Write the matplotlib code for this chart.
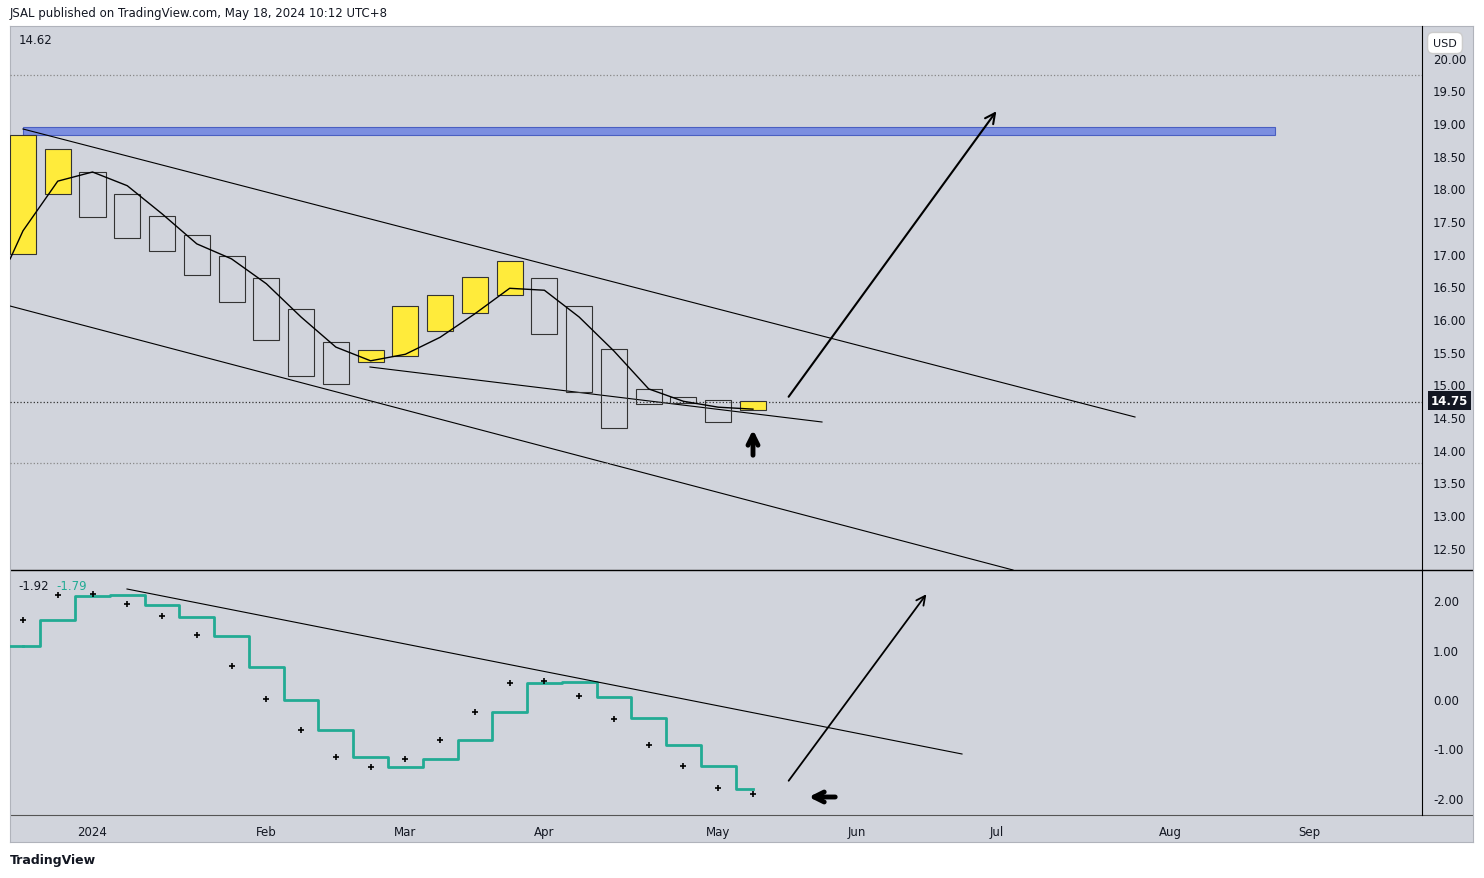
import matplotlib
matplotlib.use("Agg")
import matplotlib.pyplot as plt
from matplotlib.patches import Rectangle

W, H = 1484, 879
BG = "#d1d4dc"
TEAL = "#22ab94"

# weekly bars (index 0..21)
opens  = [17.00,17.91,18.25,17.91,17.58,17.29,16.96,16.63,16.15,15.65,15.34,15.43,15.82,16.09,16.37,16.63,16.20,15.54,14.93,14.81,14.76,14.61]
closes = [18.82,18.60,17.56,17.24,17.04,16.67,16.26,15.68,15.13,15.00,15.53,16.20,16.37,16.64,16.89,15.77,14.88,14.33,14.70,14.72,14.42,14.74]
ma_x = [-0.37,0,1,2,3,4,5,6,7,8,9,10,11,12,13,14,15,16,17,18,19,20,21]
ma_y = [16.92,17.35,18.11,18.25,18.04,17.61,17.15,16.92,16.54,16.03,15.57,15.36,15.46,15.72,16.08,16.47,16.44,16.03,15.51,14.93,14.74,14.65,14.62]
osc_step = [1.07,1.60,2.08,2.10,1.90,1.66,1.27,0.65,-0.02,-0.63,-1.17,-1.37,-1.21,-0.83,-0.26,0.32,0.34,0.04,-0.38,-0.93,-1.35,-1.82]
osc_cross = [1.60,2.10,2.12,1.92,1.68,1.29,0.67,0.0,-0.63,-1.17,-1.37,-1.21,-0.83,-0.26,0.32,0.36,0.06,-0.40,-0.93,-1.35,-1.80,-1.92]
month_idx = [2,7,11,15,20,24,28,33,37]
month_lbl = ["2024","Feb","Mar","Apr","May","Jun","Jul","Aug","Sep"]
price_ticks = [12.5,13.0,13.5,14.0,14.5,15.0,15.5,16.0,16.5,17.0,17.5,18.0,18.5,19.0,19.5,20.0]
osc_ticks = [-2,-1,0,1,2]

def px2i(x): return (x-23)/34.76
def py2p(y): return 19-(y-124)/65.33
def py2o(y): return 2-(y-601)/49.5

fig = plt.figure(figsize=(W/100, H/100), dpi=100)
fig.patch.set_facecolor("white")
def fa(l, t, r, b): return [l/W, 1-b/H, (r-l)/W, (b-t)/H]

bgax = fig.add_axes(fa(10,27,1473,843)); bgax.set_facecolor(BG)
bgax.set_xticks([]); bgax.set_yticks([])
for s in bgax.spines.values(): s.set_color("#b0b3bb")
bgax.set_xlim(0, 1); bgax.set_ylim(843, 27)
bgax.axhline(571, color="black", lw=1)
bgax.axhline(816, color="#555555", lw=0.8)

ax = fig.add_axes(fa(10,27,1422,571)); ax2 = fig.add_axes(fa(10,571,1422,816), sharex=ax)
for a in (ax, ax2):
    a.set_facecolor("none")
    a.yaxis.tick_right()
    a.tick_params(axis="y", length=0, labelsize=8.5, pad=8, colors="#131722")
    for s in a.spines.values(): s.set_visible(False)
    a.spines["right"].set_visible(True)
ax.set_xlim(px2i(10), px2i(1422))
ax.set_ylim(py2p(571), py2p(27)); ax2.set_ylim(py2o(816), py2o(571))
ax.set_yticks(price_ticks); ax.set_yticklabels([f"{t:.2f}" for t in price_ticks])
ax2.set_yticks(osc_ticks); ax2.set_yticklabels([f"{t:.2f}" for t in osc_ticks])
ax.tick_params(axis="x", bottom=False, labelbottom=False)
ax2.set_xticks(month_idx); ax2.set_xticklabels(month_lbl)
ax2.tick_params(axis="x", length=0, labelsize=8.5, colors="#131722", pad=7)

# candles
for i,(o,c) in enumerate(zip(opens, closes)):
    up = c > o
    ax.add_patch(Rectangle((i-0.375, min(o,c)), 0.75, abs(c-o),
                 facecolor="#ffeb3b" if up else "none", edgecolor="#333333", lw=0.8, zorder=3))
ax.plot(ma_x, ma_y, color="black", lw=1, zorder=4)
# lines
ax.add_patch(Rectangle((px2i(23),py2p(136)),px2i(1275)-px2i(23),py2p(128)-py2p(136),
             facecolor="#7b8ee0",edgecolor="#4a5fc1",lw=0.8,zorder=2))
ax.plot([px2i(23),px2i(1135)],[py2p(130),py2p(418)],color="black",lw=0.8,zorder=3)
ax.plot([px2i(10),px2i(1013)],[py2p(307),py2p(571)],color="black",lw=0.8)
ax.plot([px2i(370),px2i(822)],[py2p(368),py2p(423)],color="black",lw=0.8)
for y in (76,464):
    ax.axhline(py2p(y), color="#888888", ls=":", lw=0.9)
ax.axhline(14.73, color="#333333", ls=":", lw=0.9)
ax.annotate("", xy=(px2i(998),py2p(110)), xytext=(px2i(787),py2p(400)),
            arrowprops=dict(arrowstyle="->", color="black", lw=1.5, mutation_scale=18))
ax.annotate("", xy=(px2i(753),py2p(428)), xytext=(px2i(753),py2p(459)),
            arrowprops=dict(arrowstyle="->", color="black", lw=3.5, mutation_scale=18))
ax.text(0.006, py2p(41), "14.62", transform=ax.get_yaxis_transform(), fontsize=8.5, va="center", color="#131722")
ax.text(1.006, 14.75, "14.75", transform=ax.get_yaxis_transform(), fontsize=8.5, va="center",
        color="white", fontweight="bold", bbox=dict(boxstyle="square,pad=0.25", fc="#131722", ec="none"))

# oscillator
ax2.step(range(len(osc_step)), osc_step, where="mid", color=TEAL, lw=2)
ax2.plot([px2i(10),0],[osc_step[0]]*2,color=TEAL,lw=2)
ax2.plot([21,px2i(753)],[osc_step[-1]]*2,color=TEAL,lw=2)
ax2.scatter(range(len(osc_cross)), osc_cross, marker="+", color="black", s=18, lw=1.2, zorder=5)
ax2.plot([px2i(127),px2i(962)],[py2o(590),py2o(755)],color="black",lw=0.8)
ax2.annotate("", xy=(px2i(928),py2o(593)), xytext=(px2i(787),py2o(784)),
             arrowprops=dict(arrowstyle="->", color="black", lw=1.3, mutation_scale=16))
ax2.annotate("", xy=(px2i(806),py2o(798)), xytext=(px2i(838),py2o(798)),
             arrowprops=dict(arrowstyle="->", color="black", lw=3.5, mutation_scale=18))
ax2.text(0.006, py2o(586), "-1.92", transform=ax2.get_yaxis_transform(), fontsize=8.5, va="center", color="#131722")
ax2.text(0.033, py2o(586), "-1.79", transform=ax2.get_yaxis_transform(), fontsize=8.5, va="center", color=TEAL)

fig.text(10/W, 1-14/H, "JSAL published on TradingView.com, May 18, 2024 10:12 UTC+8", fontsize=8.5, va="center", color="#131722")
fig.text(10/W, 1-861/H, "TradingView", fontsize=9, va="center", color="#131722", fontweight="bold")
fig.text(1445/W, 1-44/H, "USD", fontsize=8, va="center", ha="center", color="#131722",
         bbox=dict(boxstyle="round,pad=0.5", fc="white", ec="#cccccc"))
fig.savefig("out.png", dpi=100, facecolor="white")
